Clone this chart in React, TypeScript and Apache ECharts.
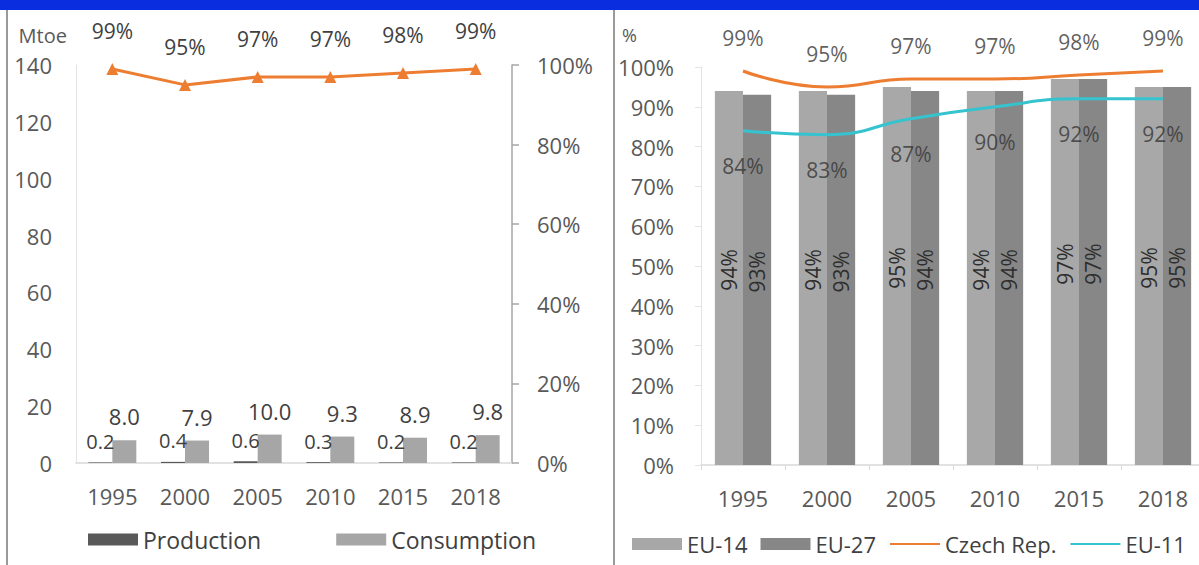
import React, { useEffect, useRef } from "react";
import * as echarts from "echarts";

const years = ["1995", "2000", "2005", "2010", "2015", "2018"];
const production = [0.2, 0.4, 0.6, 0.3, 0.2, 0.2];
const consumption = [8.0, 7.9, 10.0, 9.3, 8.9, 9.8];
const czechSelfSufficiency = [99, 95, 97, 97, 98, 99];
const eu14 = [94, 94, 95, 94, 97, 95];
const eu27 = [93, 93, 94, 94, 97, 95];
const czechRep = [99, 95, 97, 97, 98, 99];
const eu11 = [84, 83, 87, 90, 92, 92];

const FONT = "Open Sans";
const TXT = "#404040";
const AX = "#595959";
const W = 1260;
const H = 565;

export default function App() {
  const ref = useRef<HTMLDivElement>(null);
  useEffect(() => {
    if (!ref.current) return;
    const chart = echarts.init(ref.current, null, { renderer: "svg" });
    const lbl = { fontFamily: FONT, fontSize: 22, color: AX };
    const pct = (p: any) => `${p.value}%`;
    const labelOnly = (name: string, data: number[], position: string, distance: number) => ({
      name,
      type: "scatter",
      xAxisIndex: 1,
      yAxisIndex: 2,
      data,
      symbolSize: 1,
      itemStyle: { color: "rgba(0,0,0,0)" },
      z: 5,
      label: { show: true, position, distance, fontFamily: FONT, fontSize: 21, color: "#353535", formatter: pct },
    });
    chart.setOption({
      animation: false,
      backgroundColor: "#ffffff",
      textStyle: { fontFamily: FONT },
      graphic: [
        { type: "rect", shape: { x: 0, y: 0, width: W, height: 10 }, style: { fill: "#0a2de0" } },
        { type: "line", shape: { x1: 7, y1: 10, x2: 7, y2: H }, style: { stroke: "#9a9a9a", lineWidth: 2 } },
        { type: "line", shape: { x1: 614, y1: 10, x2: 614, y2: H }, style: { stroke: "#9a9a9a", lineWidth: 2 } },
      ],
      grid: [
        { left: 76, top: 65, width: 436, height: 398 },
        { left: 701, top: 67, width: 504, height: 398 },
      ],
      legend: [
        {
          left: 83,
          top: 523,
          itemWidth: 50,
          itemHeight: 12,
          itemGap: 75,
          icon: "rect",
          textStyle: { fontFamily: FONT, fontSize: 23, color: TXT },
          data: ["Production", "Consumption"],
        },
        {
          left: 627,
          top: 528,
          itemWidth: 50,
          itemHeight: 12,
          itemGap: 13,
          textStyle: { fontFamily: FONT, fontSize: 22, color: TXT },
          data: [
            { name: "EU-14", icon: "rect" },
            { name: "EU-27", icon: "rect" },
            { name: "Czech Rep.", itemStyle: { opacity: 0 } },
            { name: "EU-11", itemStyle: { opacity: 0 } },
          ],
        },
      ],
      xAxis: [
        {
          type: "category",
          gridIndex: 0,
          data: years,
          axisLine: { show: true, lineStyle: { color: "#d9d9d9", width: 1.5 } },
          axisTick: { show: false },
          axisLabel: { ...lbl, margin: 22 },
        },
        {
          type: "category",
          gridIndex: 1,
          data: years,
          axisLine: { show: true, lineStyle: { color: "#d9d9d9", width: 1.5 } },
          axisTick: { show: true, length: 5, lineStyle: { color: "#d9d9d9" } },
          axisLabel: { ...lbl, margin: 22 },
        },
      ],
      yAxis: [
        {
          type: "value",
          gridIndex: 0,
          min: 0,
          max: 140,
          interval: 20,
          name: "Mtoe",
          nameLocation: "end",
          nameGap: 30,
          nameTextStyle: { fontFamily: FONT, fontSize: 20, color: AX, align: "right", verticalAlign: "middle", padding: [0, 9, 0, 0] },
          axisLine: { show: true, lineStyle: { color: "#e3e3e3" } },
          axisTick: { show: false },
          splitLine: { show: false },
          axisLabel: { ...lbl, margin: 24 },
        },
        {
          type: "value",
          gridIndex: 0,
          position: "right",
          min: 0,
          max: 100,
          interval: 20,
          axisLine: { show: true, lineStyle: { color: "#a6a6a6", width: 1.5 } },
          axisTick: { show: true, length: 7, lineStyle: { color: "#a6a6a6", width: 1.5 } },
          splitLine: { show: false },
          axisLabel: { ...lbl, margin: 25, formatter: "{value}%" },
        },
        {
          type: "value",
          gridIndex: 1,
          min: 0,
          max: 100,
          interval: 10,
          name: "%",
          nameLocation: "end",
          nameGap: 32,
          nameTextStyle: { fontFamily: FONT, fontSize: 18, color: AX, align: "right", verticalAlign: "middle", padding: [0, 64, 0, 0] },
          axisLine: { show: true, lineStyle: { color: "#e3e3e3" } },
          axisTick: { show: true, length: 6, lineStyle: { color: "#e3e3e3" } },
          splitLine: { show: false },
          axisLabel: { ...lbl, margin: 27, formatter: "{value}%" },
        },
      ],
      series: [
        {
          name: "Production",
          type: "bar",
          xAxisIndex: 0,
          yAxisIndex: 0,
          data: production,
          barGap: "0%",
          barCategoryGap: "34%",
          itemStyle: { color: "#595959" },
          label: { show: true, position: "top", distance: 11, fontFamily: FONT, fontSize: 20, color: TXT, formatter: (p: any) => p.value.toFixed(1) },
        },
        {
          name: "Consumption",
          type: "bar",
          xAxisIndex: 0,
          yAxisIndex: 0,
          data: consumption,
          barGap: "0%",
          barCategoryGap: "34%",
          itemStyle: { color: "#a6a6a6" },
          label: { show: true, position: "top", distance: 13, fontFamily: FONT, fontSize: 22, color: TXT, formatter: (p: any) => p.value.toFixed(1) },
        },
        {
          name: "Self-sufficiency",
          type: "line",
          xAxisIndex: 0,
          yAxisIndex: 1,
          data: czechSelfSufficiency,
          symbol: "triangle",
          symbolSize: 12,
          itemStyle: { color: "#ed7d31" },
          lineStyle: { color: "#ed7d31", width: 3 },
          label: { show: true, position: "top", distance: 21, fontFamily: FONT, fontSize: 21, color: TXT, formatter: pct },
        },
        {
          name: "EU-14",
          type: "bar",
          xAxisIndex: 1,
          yAxisIndex: 2,
          data: eu14,
          barGap: "0%",
          barCategoryGap: "33%",
          itemStyle: { color: "#a8a8a8" },
          label: { show: true, position: "inside", rotate: 90, offset: [8, 0], fontFamily: FONT, fontSize: 21, color: "#2e2e2e", formatter: pct },
        },
        {
          name: "EU-27",
          type: "bar",
          xAxisIndex: 1,
          yAxisIndex: 2,
          data: eu27,
          barGap: "0%",
          barCategoryGap: "33%",
          itemStyle: { color: "#878787" },
          label: { show: true, position: "inside", rotate: 90, offset: [8, 0], fontFamily: FONT, fontSize: 21, color: "#2e2e2e", formatter: pct },
        },
        {
          name: "Czech Rep.",
          type: "line",
          xAxisIndex: 1,
          yAxisIndex: 2,
          data: czechRep,
          smooth: true,
          symbol: "none",
          itemStyle: { color: "#ed7d31" },
          lineStyle: { color: "#ed7d31", width: 3 },
        },
        {
          name: "EU-11",
          type: "line",
          xAxisIndex: 1,
          yAxisIndex: 2,
          data: eu11,
          smooth: true,
          symbol: "none",
          itemStyle: { color: "#35c4cf" },
          lineStyle: { color: "#35c4cf", width: 3 },
        },
        labelOnly("Czech Rep. labels", czechRep, "top", 22),
        labelOnly("EU-11 labels", eu11, "bottom", 24),
      ],
    });
    return () => chart.dispose();
  }, []);
  return (
    <div style={{ position: "fixed", left: 0, top: 0, width: 1199, height: 565, overflow: "hidden", background: "#fff" }}>
      <div ref={ref} style={{ width: W, height: H }} />
    </div>
  );
}
